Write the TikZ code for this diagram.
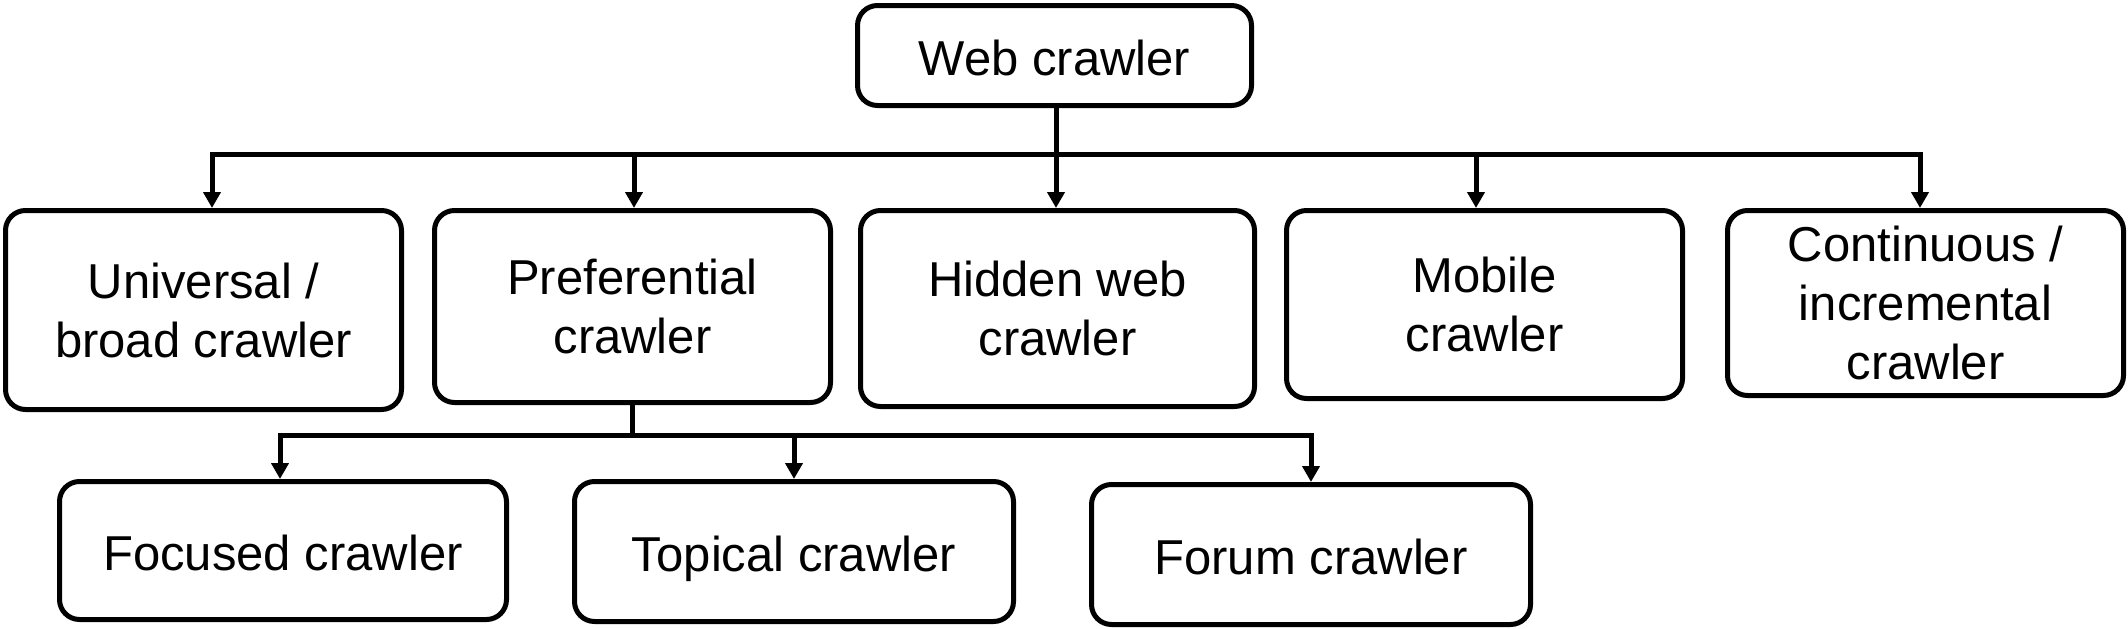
\documentclass[tikz,border=0pt]{standalone}
\usepackage{fontspec}
\setmainfont{Liberation Sans}
\usetikzlibrary{arrows.meta}
\begin{document}
\begin{tikzpicture}[x=1pt,y=-1pt,
  box/.style={draw, line width=5pt, rounded corners=20pt, inner sep=0pt,
    align=center, font=\fontsize{49}{59}\selectfont},
  oneline/.style={text height=40pt, text depth=0pt},
  conn/.style={line width=5pt, line cap=rect},
  arr/.style={line width=5pt, -{Triangle[length=16pt,width=17pt]}}]
\useasboundingbox (0,0) rectangle (2128,629);

\node[box, oneline, minimum width=394pt, minimum height=100pt] (web) at (1054.5,55.5) {Web crawler};

\node[box, minimum width=396pt, minimum height=199pt] (uni) at (203.5,310) {Universal /\\broad crawler};
\node[box, minimum width=396pt, minimum height=192pt] (pref) at (632.5,306.5) {Preferential\\crawler};
\node[box, minimum width=394pt, minimum height=196pt] (hid) at (1057.5,308.5) {Hidden web\\crawler};
\node[box, minimum width=396pt, minimum height=188pt] (mob) at (1484.5,304.5) {Mobile\\crawler};
\node[box, minimum width=396pt, minimum height=185pt] (cont) at (1925.5,303) {Continuous /\\incremental\\crawler};

\node[box, oneline, minimum width=447pt, minimum height=138pt] (foc) at (283,550.5) {Focused crawler};
\node[box, oneline, minimum width=439pt, minimum height=140pt] (top) at (794,551.5) {Topical crawler};
\node[box, oneline, minimum width=439pt, minimum height=140pt] (for) at (1311,554.5) {Forum crawler};

\coordinate (b1) at (212,154);
\coordinate (b2) at (634,154);
\coordinate (b3) at (1056,154);
\coordinate (b4) at (1476,154);
\coordinate (b5) at (1920,154);

\draw[conn] (web.south -| b3) -- (b3);
\draw[conn] (b1) -- (b5);
\draw[arr] (b1) -- (b1 |- uni.north);
\draw[arr] (b2) -- (b2 |- pref.north);
\draw[arr] (b3) -- (b3 |- hid.north);
\draw[arr] (b4) -- (b4 |- mob.north);
\draw[arr] (b5) -- (b5 |- cont.north);

\coordinate (c1) at (280,435);
\coordinate (c2) at (794,435);
\coordinate (c3) at (1311,435);

\draw[conn] (pref.south) -- (pref.south |- c1);
\draw[conn] (c1) -- (c3);
\draw[arr] (c1) -- (c1 |- foc.north);
\draw[arr] (c2) -- (c2 |- top.north);
\draw[arr] (c3) -- (c3 |- for.north);
\end{tikzpicture}
\end{document}
